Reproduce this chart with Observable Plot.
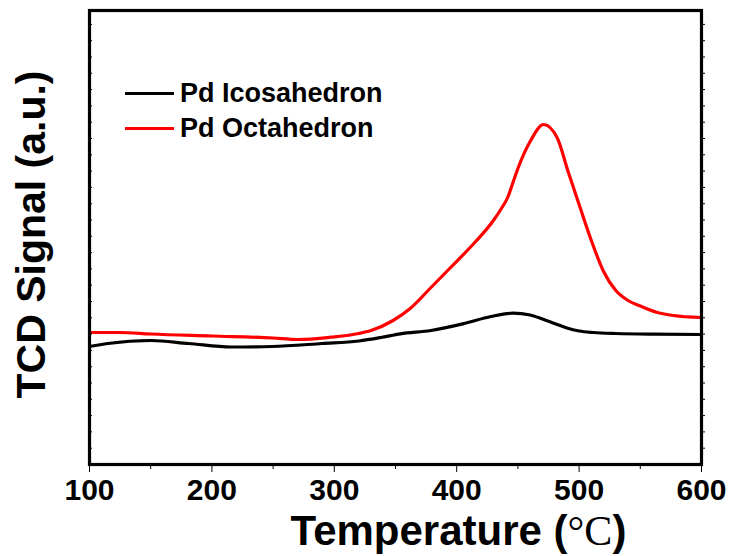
<!DOCTYPE html>
<html>
<head>
<meta charset="utf-8">
<script src="https://cdn.jsdelivr.net/npm/d3@7"></script>
<script src="https://cdn.jsdelivr.net/npm/@observablehq/plot@0.6"></script>
<style>
  html, body { margin: 0; padding: 0; background: #fff; }
  #chart { position: relative; width: 729px; height: 556px; }
  .legend { position: absolute; left: 125px; top: 76px; font: bold 27px "Liberation Sans", Arial, sans-serif; color: #000; }
  .legend .row { display: flex; align-items: center; height: 35px; }
  .legend .swatch { width: 49px; height: 0; border-top: 3px solid; margin-right: 6px; }
</style>
</head>
<body>
<div id="chart"></div>
<script>
// TPD temperature axis (°C) and TCD signal (arbitrary units)
const icoTemp   = [100, 115, 150, 181, 216, 249, 290, 320, 338, 354, 379, 406, 428, 446, 460, 470, 480, 490, 500, 512, 530, 560, 600];
const icoSignal = [118, 121, 124, 121, 117.5, 118, 121, 123.5, 127, 130.7, 134, 141, 148, 151.3, 149.5, 145.5, 141, 136.5, 133.5, 132, 131, 130.3, 130];

const octTemp   = [100, 125, 150, 200, 250, 270, 297, 320, 330, 348, 362, 379, 395, 414, 430, 436, 442, 446, 450, 460, 471, 482, 491, 500, 510, 520, 530, 540, 550, 564, 577, 600];
const octSignal = [132, 132, 130.5, 128.5, 126.5, 125, 127.3, 131, 134, 144, 156, 177, 197, 221, 244, 255, 268, 282, 296, 323, 340, 327, 293, 260, 224, 193, 174, 164, 158.5, 152, 149, 147];

const seriesNames  = ["Pd Icosahedron", "Pd Octahedron"];
const seriesColors = ["#000000", "#ff0000"];

const xMajor = [100, 200, 300, 400, 500, 600];
const xMinor = [150, 250, 350, 450, 550];
const yDomain = [0, 454];
const yTickStep = 16.3;

const xLabel = "Temperature (°C)";
const yLabel = "TCD Signal (a.u.)";

const rows = [
  ...icoTemp.map((t, i) => ({series: seriesNames[0], t, v: icoSignal[i]})),
  ...octTemp.map((t, i) => ({series: seriesNames[1], t, v: octSignal[i]}))
];

const font = '"Liberation Sans", Arial, sans-serif';
const yTicks = d3.range(yDomain[0] + yTickStep, yDomain[1], yTickStep);

const chart = Plot.plot({
  width: 729,
  height: 556,
  marginTop: 10,
  marginBottom: 92,
  marginLeft: 89,
  marginRight: 28,
  style: {fontFamily: font, background: "#fff", color: "#000"},
  x: {domain: [100, 600]},
  y: {domain: yDomain},
  color: {domain: seriesNames, range: seriesColors},
  marks: [
    Plot.line(rows, {x: "t", y: "v", z: "series", stroke: "series", strokeWidth: 3.2, curve: "monotone-x"}),
    Plot.frame({stroke: "#000", strokeWidth: 3.2}),
    Plot.axisX({ticks: xMajor, tickSize: 8, tickPadding: 6, tickWidth: 2.5, fontSize: 30, fontWeight: "bold", label: null}),
    Plot.axisX({ticks: xMinor, tickSize: 5, tickWidth: 2.5, text: null, label: null}),
    Plot.axisY({ticks: yTicks, tickSize: -3, tickWidth: 1.5, text: null, label: null}),
    Plot.axisY({anchor: "right", ticks: yTicks, tickSize: 3, tickWidth: 1.5, text: null, label: null}),
    Plot.text([xLabel], {frameAnchor: "bottom", textAnchor: "middle", lineAnchor: "middle", dx: 63, dy: 67, fontSize: 42, fontWeight: "bold", className: "xtitle"}),
    Plot.text([yLabel], {frameAnchor: "left", textAnchor: "middle", lineAnchor: "middle", rotate: -90, dx: -58, dy: -3, fontSize: 41, fontWeight: "bold"})
  ]
});

// Typeset the degree-Celsius unit in a serif face
chart.querySelectorAll(".xtitle text").forEach(t => {
  const s = t.textContent;
  const k = s.indexOf("°C");
  if (k < 0) return;
  t.textContent = "";
  const a = document.createElementNS("http://www.w3.org/2000/svg", "tspan");
  a.textContent = s.slice(0, k);
  const b = document.createElementNS("http://www.w3.org/2000/svg", "tspan");
  b.textContent = "°C";
  b.setAttribute("font-family", '"Liberation Serif", "Times New Roman", serif');
  b.setAttribute("font-weight", "normal");
  const c = document.createElementNS("http://www.w3.org/2000/svg", "tspan");
  c.textContent = s.slice(k + 2);
  t.append(a, b, c);
});

const host = document.getElementById("chart");
host.appendChild(chart);

const legend = document.createElement("div");
legend.className = "legend";
seriesNames.forEach((name, i) => {
  const row = document.createElement("div");
  row.className = "row";
  const sw = document.createElement("span");
  sw.className = "swatch";
  sw.style.borderColor = seriesColors[i];
  const label = document.createElement("span");
  label.textContent = name;
  row.append(sw, label);
  legend.appendChild(row);
});
host.appendChild(legend);
</script>
</body>
</html>
